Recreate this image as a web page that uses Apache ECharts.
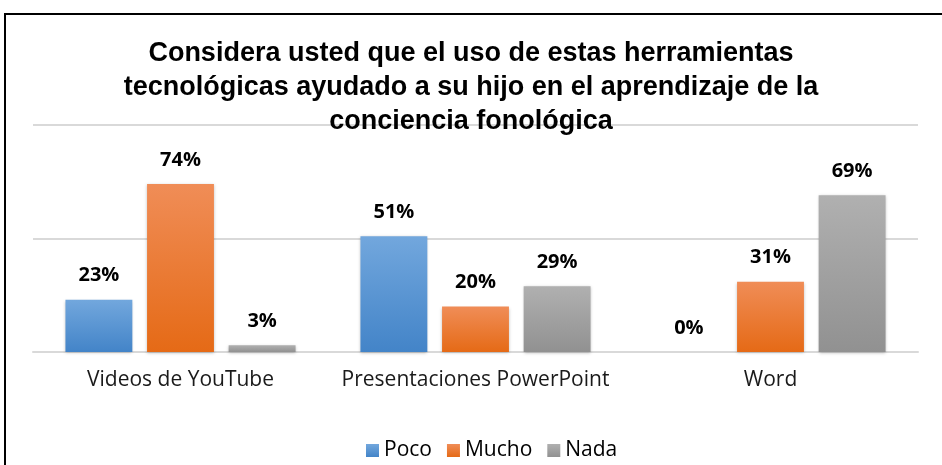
<!DOCTYPE html>
<html lang="es">
<head>
    <meta charset="utf-8">
    <title>Herramientas tecnológicas</title>
    <script src="https://cdn.jsdelivr.net/npm/echarts@6.0.0/dist/echarts.min.js"></script>
    <style>
        body { margin: 0; background: #fff; }
        #chart { width: 942px; height: 465px; }
    </style>
</head>
<body>
<div id="chart"></div>
<script>
    // datos
    const categorias = ['Videos de YouTube', 'Presentaciones PowerPoint', 'Word'];
    const poco = [23, 51, 0];
    const mucho = [74, 20, 31];
    const nada = [3, 29, 69];

    function grad(top, bottom) {
        return new echarts.graphic.LinearGradient(0, 0, 0, 1, [
            { offset: 0, color: top },
            { offset: 1, color: bottom }
        ]);
    }

    const labelStyle = {
        show: true,
        position: 'top',
        distance: 14,
        formatter: '{c}%',
        fontFamily: 'Open Sans',
        fontWeight: 'bold',
        fontSize: 20,
        color: '#000'
    };

    function serie(nombre, datos, top, bottom) {
        return {
            name: nombre,
            type: 'bar',
            data: datos,
            barGap: '22%',
            barCategoryGap: '22%',
            label: labelStyle,
            itemStyle: {
                color: grad(top, bottom),
                shadowColor: 'rgba(0,0,0,0.25)',
                shadowBlur: 3,
                shadowOffsetY: 1
            }
        };
    }

    const chart = echarts.init(document.getElementById('chart'));
    chart.setOption({
        animation: false,
        color: ['#5b9bd5', '#ed7d31', '#a5a5a5'],
        title: {
            text: 'Considera usted que el uso de estas herramientas\ntecnológicas ayudado a su hijo en el aprendizaje de la\nconciencia fonológica',
            left: 'center',
            top: 32,
            textStyle: {
                fontFamily: 'Liberation Sans',
                fontWeight: 'bold',
                fontSize: 27,
                lineHeight: 34,
                color: '#000'
            }
        },
        graphic: [{
            type: 'rect',
            shape: { x: 5, y: 14, width: 960, height: 480 },
            style: { fill: 'none', stroke: '#000', lineWidth: 2 },
            z: -1
        }],
        legend: {
            top: 435,
            left: 361,
            icon: 'rect',
            itemWidth: 13,
            itemHeight: 13,
            itemGap: 15,
            textStyle: { fontFamily: 'Open Sans', fontSize: 21, color: '#000' },
            data: ['Poco', 'Mucho', 'Nada']
        },
        grid: { left: 33, right: 24, top: 125, bottom: 113 },
        xAxis: {
            type: 'category',
            data: categorias,
            axisTick: { show: false },
            axisLine: { lineStyle: { color: '#d9d9d9', width: 2 } },
            axisLabel: {
                interval: 0,
                margin: 18,
                fontFamily: 'Open Sans',
                fontSize: 21,
                color: '#1a1a1a'
            }
        },
        yAxis: {
            type: 'value',
            min: 0,
            max: 100,
            interval: 50,
            axisLabel: { show: false },
            axisLine: { show: false },
            axisTick: { show: false },
            splitLine: { lineStyle: { color: '#d9d9d9', width: 2 } }
        },
        series: [
            serie('Poco', poco, '#72a7dd', '#4384c8'),
            serie('Mucho', mucho, '#f08d57', '#e56a16'),
            serie('Nada', nada, '#b0b0b0', '#919191')
        ]
    });
</script>
</body>
</html>
